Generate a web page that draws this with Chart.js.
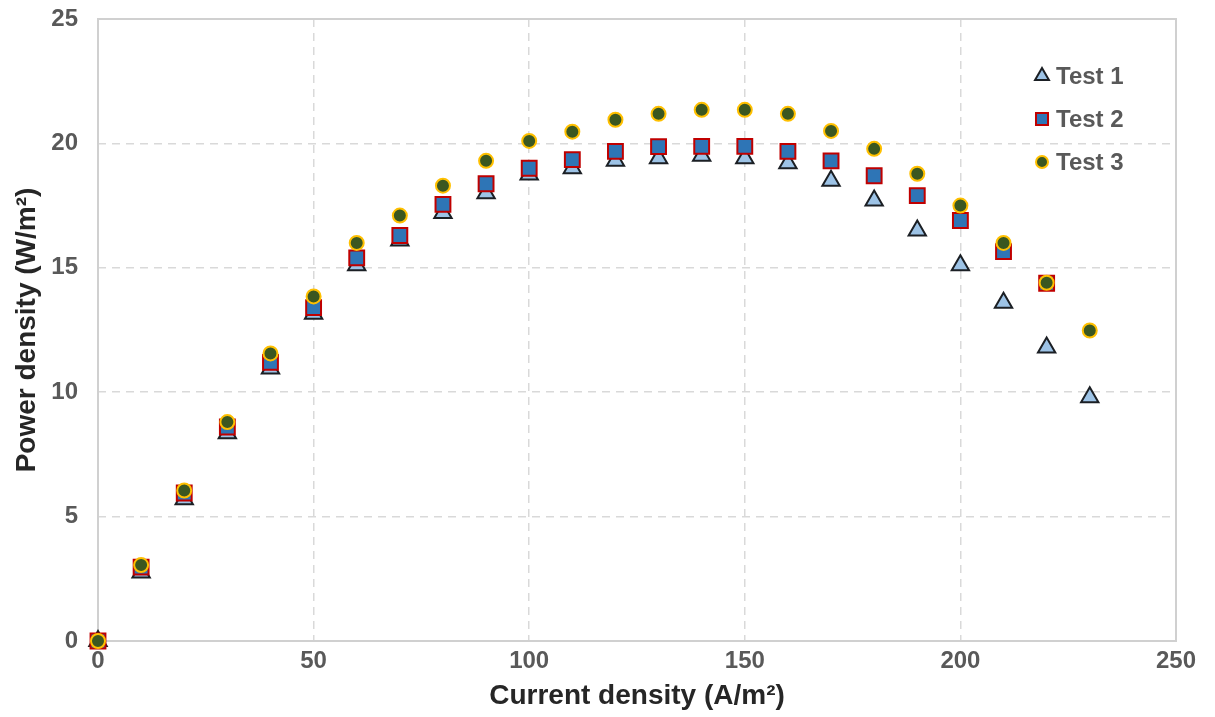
<!DOCTYPE html>
<html>
<head>
<meta charset="utf-8">
<script src="https://cdn.jsdelivr.net/npm/chart.js@4.4.1/dist/chart.umd.min.js"></script>
<style>
html,body{margin:0;padding:0;background:#fff;}
#wrap{width:1215px;height:717px;position:relative;}
</style>
</head>
<body>
<div id="wrap"><canvas id="c" width="1215" height="717"></canvas></div>
<script>
const currentDensity = [0,10,20,30,40,50,60,70,80,90,100,110,120,130,140,150,160,170,180,190,200,210,220,230];
const test1 = [0,2.75,5.7,8.35,10.95,13.15,15.1,16.1,17.2,18.0,18.75,19.0,19.3,19.4,19.5,19.4,19.2,18.5,17.7,16.5,15.1,13.6,11.8,9.8];
const test2 = [0,2.97,5.95,8.6,11.2,13.4,15.4,16.3,17.55,18.38,19.0,19.35,19.68,19.87,19.88,19.88,19.68,19.3,18.7,17.9,16.9,15.65,14.38,null];
const test3 = [0,3.05,6.05,8.8,11.56,13.85,16.0,17.1,18.3,19.3,20.1,20.47,20.95,21.19,21.35,21.35,21.19,20.5,19.78,18.78,17.5,16.0,14.4,12.48];
const seriesNames = ['Test 1','Test 2','Test 3'];
const xTicks = [0,50,100,150,200,250];
const yTicks = [0,5,10,15,20,25];

const styles = [
  {pointStyle:'triangle', radius:10, fill:'#9DC3E6', stroke:'#1b1f24', bw:2, lr:8},
  {pointStyle:'rect', radius:10.5, fill:'#2E75B6', stroke:'#C00000', bw:2, lr:8.5},
  {pointStyle:'circle', radius:7, fill:'#3B5720', stroke:'#FFC000', bw:2, lr:6}
];
const seriesData = [test1, test2, test3];

const datasets = seriesData.map((vals, i) => ({
  label: seriesNames[i],
  data: currentDensity.map((x, j) => vals[j] === null ? null : ({x: x, y: vals[j]})).filter(p => p !== null),
  showLine: false,
  clip: false,
  pointStyle: styles[i].pointStyle,
  pointRadius: styles[i].radius,
  pointHoverRadius: styles[i].radius,
  pointBackgroundColor: styles[i].fill,
  pointBorderColor: styles[i].stroke,
  pointBorderWidth: styles[i].bw,
  order: 3 - i
}));

const frameAndLegend = {
  id: 'frameAndLegend',
  beforeDatasetsDraw(chart) {
    const {ctx, chartArea: a} = chart;
    ctx.save();
    ctx.strokeStyle = '#D0D0D0';
    ctx.lineWidth = 2;
    ctx.setLineDash([]);
    ctx.strokeRect(a.left, a.top, a.right - a.left, a.bottom - a.top);
    ctx.restore();
  },
  afterDraw(chart) {
    const ctx = chart.ctx;
    ctx.save();
    const x0 = 1042, y0 = 76, dy = 43;
    seriesNames.forEach((name, i) => {
      const y = y0 + i * dy;
      ctx.fillStyle = styles[i].fill;
      ctx.strokeStyle = styles[i].stroke;
      ctx.lineWidth = styles[i].bw;
      Chart.helpers.drawPoint(ctx, {pointStyle: styles[i].pointStyle, radius: styles[i].lr, rotation: 0, borderWidth: styles[i].bw}, x0, y);
      ctx.fillStyle = '#595959';
      ctx.font = 'bold 24px "Liberation Sans", Arial, sans-serif';
      ctx.textAlign = 'left';
      ctx.textBaseline = 'middle';
      ctx.fillText(name, 1056, y + 1);
    });
    ctx.restore();
  }
};

const gridColor = c => (c.tick && (c.tick.value === 0)) ? 'rgba(0,0,0,0)' : '#D9D9D9';

new Chart(document.getElementById('c'), {
  type: 'scatter',
  data: {datasets},
  options: {
    responsive: false,
    animation: false,
    events: [],
    layout: {padding: {left: 6, right: 39, top: 19, bottom: 0}},
    plugins: {legend: {display: false}, tooltip: {enabled: false}},
    scales: {
      x: {
        type: 'linear', min: 0, max: 250,
        afterBuildTicks: s => { s.ticks = xTicks.map(v => ({value: v})); },
        afterFit: s => { s.height = 76; s.paddingLeft = 0; s.paddingRight = 0; },
        grid: {color: gridColor, lineWidth: 1.5, drawTicks: false},
        border: {display: false, dash: [8, 6]},
        ticks: {padding: 6, color: '#595959', font: {family: '"Liberation Sans", Arial, sans-serif', size: 24, weight: 'bold'}},
        title: {display: true, text: 'Current density (A/m²)', color: '#262626', padding: {top: 0, bottom: 4},
          font: {family: '"Liberation Sans", Arial, sans-serif', size: 28, weight: 'bold'}}
      },
      y: {
        type: 'linear', min: 0, max: 25,
        afterBuildTicks: s => { s.ticks = yTicks.map(v => ({value: v})); },
        afterFit: s => { s.width = 92; s.paddingTop = 0; s.paddingBottom = 0; },
        grid: {color: gridColor, lineWidth: 1.5, drawTicks: false},
        border: {display: false, dash: [8, 6]},
        ticks: {padding: 20, color: '#595959', font: {family: '"Liberation Sans", Arial, sans-serif', size: 24, weight: 'bold'}},
        title: {display: true, text: 'Power density (W/m²)', color: '#262626', padding: {top: 4, bottom: 0},
          font: {family: '"Liberation Sans", Arial, sans-serif', size: 28, weight: 'bold'}}
      }
    }
  },
  plugins: [frameAndLegend]
});
</script>
</body>
</html>
